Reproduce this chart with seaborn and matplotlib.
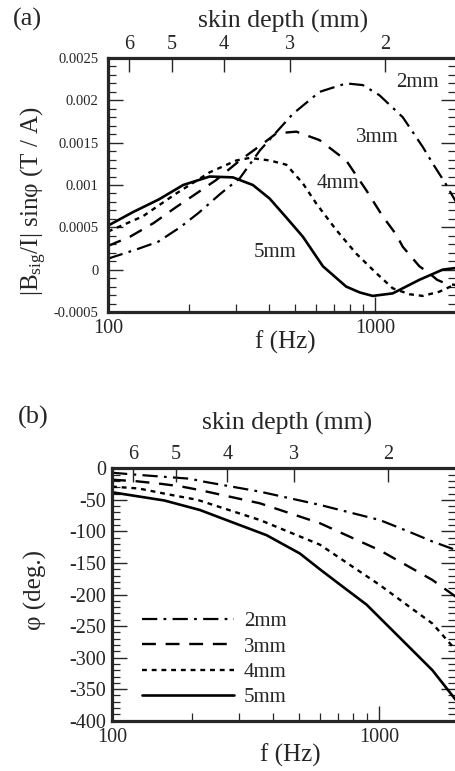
import matplotlib
matplotlib.use('Agg')
import matplotlib.pyplot as plt
import seaborn as sns
import numpy as np
from matplotlib.ticker import MultipleLocator, NullFormatter, FixedLocator

# ---- dados ----
labels = ['2mm', '3mm', '4mm', '5mm']

# (a) |B_sig/I| sin(phi) vs f
a_freq_2mm = [100, 128, 154, 186, 218, 264, 311, 370, 491, 618, 777, 897, 1035, 1265, 1502, 1640, 1825, 2000]
a_val_2mm = [0.00013, 0.00024, 0.00033, 0.0005, 0.00067, 0.0009, 0.00108, 0.00141, 0.00184, 0.0021, 0.0022,
             0.00218, 0.00206, 0.0018, 0.00145, 0.00125, 0.00102, 0.0008]
a_freq_3mm = [100, 121, 148, 180, 214, 254, 311, 380, 426, 506, 618, 777, 923, 1064, 1192, 1265, 1459, 1586,
              1700, 1850, 2000]
a_val_3mm = [0.00028, 0.00039, 0.00055, 0.00074, 0.0009, 0.00106, 0.00129, 0.00149, 0.00161, 0.00163, 0.00153,
             0.00129, 0.00094, 0.00063, 0.00042, 0.00027, 0.00004, -0.00004, -0.00012, -0.00017, -0.00018]
a_freq_4mm = [100, 135, 180, 240, 302, 339, 402, 464, 535, 601, 713, 847, 1006, 1160, 1339, 1502, 1733, 2000]
a_val_4mm = [0.00045, 0.00063, 0.0009, 0.00115, 0.00129, 0.00132, 0.00129, 0.00124, 0.00102, 0.00078, 0.00047,
             0.00019, -0.00004, -0.00022, -0.00029, -0.00031, -0.00026, -0.00017]
a_freq_5mm = [100, 124, 155, 191, 240, 293, 348, 402, 460, 535, 636, 777, 875, 977, 1160, 1459, 1782, 2000]
a_val_5mm = [0.00052, 0.00068, 0.00083, 0.0010, 0.0011, 0.00109, 0.0010, 0.00084, 0.00063, 0.00039, 0.00004,
             -0.0002, -0.00027, -0.00031, -0.00028, -0.00012, 0.0, 0.00002]

# (b) phi vs f
b_freq_2mm = [100, 127, 196, 217, 358, 600, 1006, 1294, 1583, 1936]
b_phi_2mm = [-7, -10.6, -16.5, -20.6, -37, -58, -82, -100.5, -116, -129.5]
b_freq_3mm = [100, 124, 151, 180, 213, 358, 600, 1006, 1294, 1583, 1936]
b_phi_3mm = [-18, -20.6, -24.4, -28.5, -34.5, -55.5, -87, -130, -156, -177, -203.5]
b_freq_4mm = [100, 126, 161, 209, 358, 600, 1006, 1294, 1583, 1936]
b_phi_4mm = [-29, -32, -41, -50, -82, -121, -185, -219, -246, -288]
b_freq_5mm = [100, 157, 213, 284, 379, 505, 600, 733, 897, 1006, 1294, 1583, 1936]
b_phi_5mm = [-38, -51, -66, -86, -106, -135, -160, -188, -216, -237, -283, -320, -367]

# eixo superior: profundidade de penetracao (mm), f = K / delta^2
skin_depths = [6, 5, 4, 3, 2]
K_SKIN = 4330.0

a_yticks = [-0.0005, 0, 0.0005, 0.001, 0.0015, 0.002, 0.0025]
a_yticklabels = ['-0.0005', '0', '0.0005', '0.001', '0.0015', '0.002', '0.0025']
b_yticks = [-400, -350, -300, -250, -200, -150, -100, -50, 0]
b_yticklabels = ['-400', '-350', '-300', '-250', '-200', '-150', '-100', '-50', '0']

# ---- estilo ----
sns.set_style('ticks')
plt.rcParams['font.family'] = ['Liberation Serif', 'DejaVu Serif']
plt.rcParams['mathtext.fontset'] = 'custom'
plt.rcParams['mathtext.rm'] = 'Liberation Serif'
plt.rcParams['mathtext.it'] = 'Liberation Serif:italic'
plt.rcParams['axes.unicode_minus'] = False
plt.rcParams['lines.scale_dashes'] = False

estilos = {
    '2mm': (0, (11, 4.5, 2, 4.5)),
    '3mm': (0, (10, 7)),
    '4mm': (0, (3.5, 3.5)),
    '5mm': '-',
}
larguras = {'2mm': 1.6, '3mm': 1.7, '4mm': 1.7, '5mm': 1.9}

fig = plt.figure(figsize=(4.56, 7.71), dpi=100)
W, H = 456, 771
ax_a = fig.add_axes([108 / W, 1 - 312 / H, 348 / W, 254 / H])
ax_b = fig.add_axes([112 / W, 1 - 720.7 / H, 344 / W, 252.4 / H])


def estiliza(ax, xmax):
    ax.set_xscale('log')
    ax.set_xlim(100, xmax)
    for s in ['left', 'top', 'bottom']:
        ax.spines[s].set_linewidth(2.3)
    ax.spines['right'].set_visible(False)
    ax.tick_params(axis='both', which='major', direction='in', length=11, width=1.0,
                   right=True, top=False, labelsize=14.5, pad=5)
    ax.tick_params(axis='both', which='minor', direction='in', length=5.5, width=0.9,
                   right=True, top=False)
    ax.set_xticks([100, 1000])
    ax.set_xticklabels(['100', '1000'])
    ax.xaxis.set_minor_formatter(NullFormatter())

    top = ax.twiny()
    top.set_xscale('log')
    top.set_xlim(ax.get_xlim())
    top.xaxis.set_major_locator(FixedLocator([K_SKIN / d ** 2 for d in skin_depths]))
    top.set_xticklabels([str(d) for d in skin_depths])
    top.xaxis.set_minor_locator(FixedLocator([]))
    top.tick_params(axis='x', which='major', direction='in', length=10, width=1.0,
                    labelsize=14.5, pad=3)
    for s in top.spines.values():
        s.set_visible(False)
    top.set_xlabel('skin depth (mm)', fontsize=18.5)
    return top


# ---- (a) ----
series_a = [(a_freq_2mm, a_val_2mm), (a_freq_3mm, a_val_3mm), (a_freq_4mm, a_val_4mm), (a_freq_5mm, a_val_5mm)]
for lab, (fx, vy) in zip(labels, series_a):
    sns.lineplot(x=fx, y=vy, ax=ax_a, color='black', linestyle=estilos[lab], linewidth=larguras[lab])
ax_a.set_ylim(-0.0005, 0.0025)
ax_a.set_yticks(a_yticks)
ax_a.set_yticklabels(a_yticklabels)
ax_a.yaxis.set_minor_locator(MultipleLocator(0.0001))
top_a = estiliza(ax_a, 2000)
ax_a.tick_params(axis='y', which='major', labelsize=10.5, pad=7)
ax_a.set_xlabel('f (Hz)', fontsize=18)
ax_a.xaxis.set_label_coords(0.509, -0.075)
ax_a.set_ylabel(r'|B$_{\mathrm{sig}}$/I| sinφ (T / A)', fontsize=18)
ax_a.yaxis.set_label_coords(-0.17, 0.437)
top_a.xaxis.set_label_coords(0.503, 1.12)

ax_a.text(1429, 0.00221, '2mm', fontsize=15, ha='center', va='center')
ax_a.text(1013, 0.00156, '3mm', fontsize=15, ha='center', va='center')
ax_a.text(724, 0.00102, '4mm', fontsize=15, ha='center', va='center')
ax_a.text(421, 0.0002, '5mm', fontsize=15, ha='center', va='center')

# ---- (b) ----
series_b = [(b_freq_2mm, b_phi_2mm), (b_freq_3mm, b_phi_3mm), (b_freq_4mm, b_phi_4mm), (b_freq_5mm, b_phi_5mm)]
for lab, (fx, py) in zip(labels, series_b):
    sns.lineplot(x=fx, y=py, ax=ax_b, color='black', linestyle=estilos[lab], linewidth=larguras[lab],
                 label=lab)
ax_b.set_ylim(-400, 0)
ax_b.set_yticks(b_yticks)
ax_b.set_yticklabels(b_yticklabels)
ax_b.yaxis.set_minor_locator(MultipleLocator(10))
top_b = estiliza(ax_b, 1940)
ax_b.tick_params(axis='y', which='major', pad=4)
ax_b.set_xlabel('f (Hz)', fontsize=18)
ax_b.xaxis.set_label_coords(0.517, -0.09)
ax_b.set_ylabel('φ (deg.)', fontsize=18)
ax_b.yaxis.set_label_coords(-0.19, 0.518)
top_b.xaxis.set_label_coords(0.51, 1.155)

ax_b.legend(loc='upper left', bbox_to_anchor=(0.087, 0.432), frameon=False, fontsize=15,
            handlelength=4.4, handletextpad=0.5, labelspacing=0.28, borderaxespad=0, borderpad=0)

fig.text(13 / W, 1 - 8 / H, '(a)', fontsize=19, va='top', ha='left')
fig.text(18 / W, 1 - 406 / H, '(b)', fontsize=19, va='top', ha='left')

plt.savefig('out.png', dpi=100)
